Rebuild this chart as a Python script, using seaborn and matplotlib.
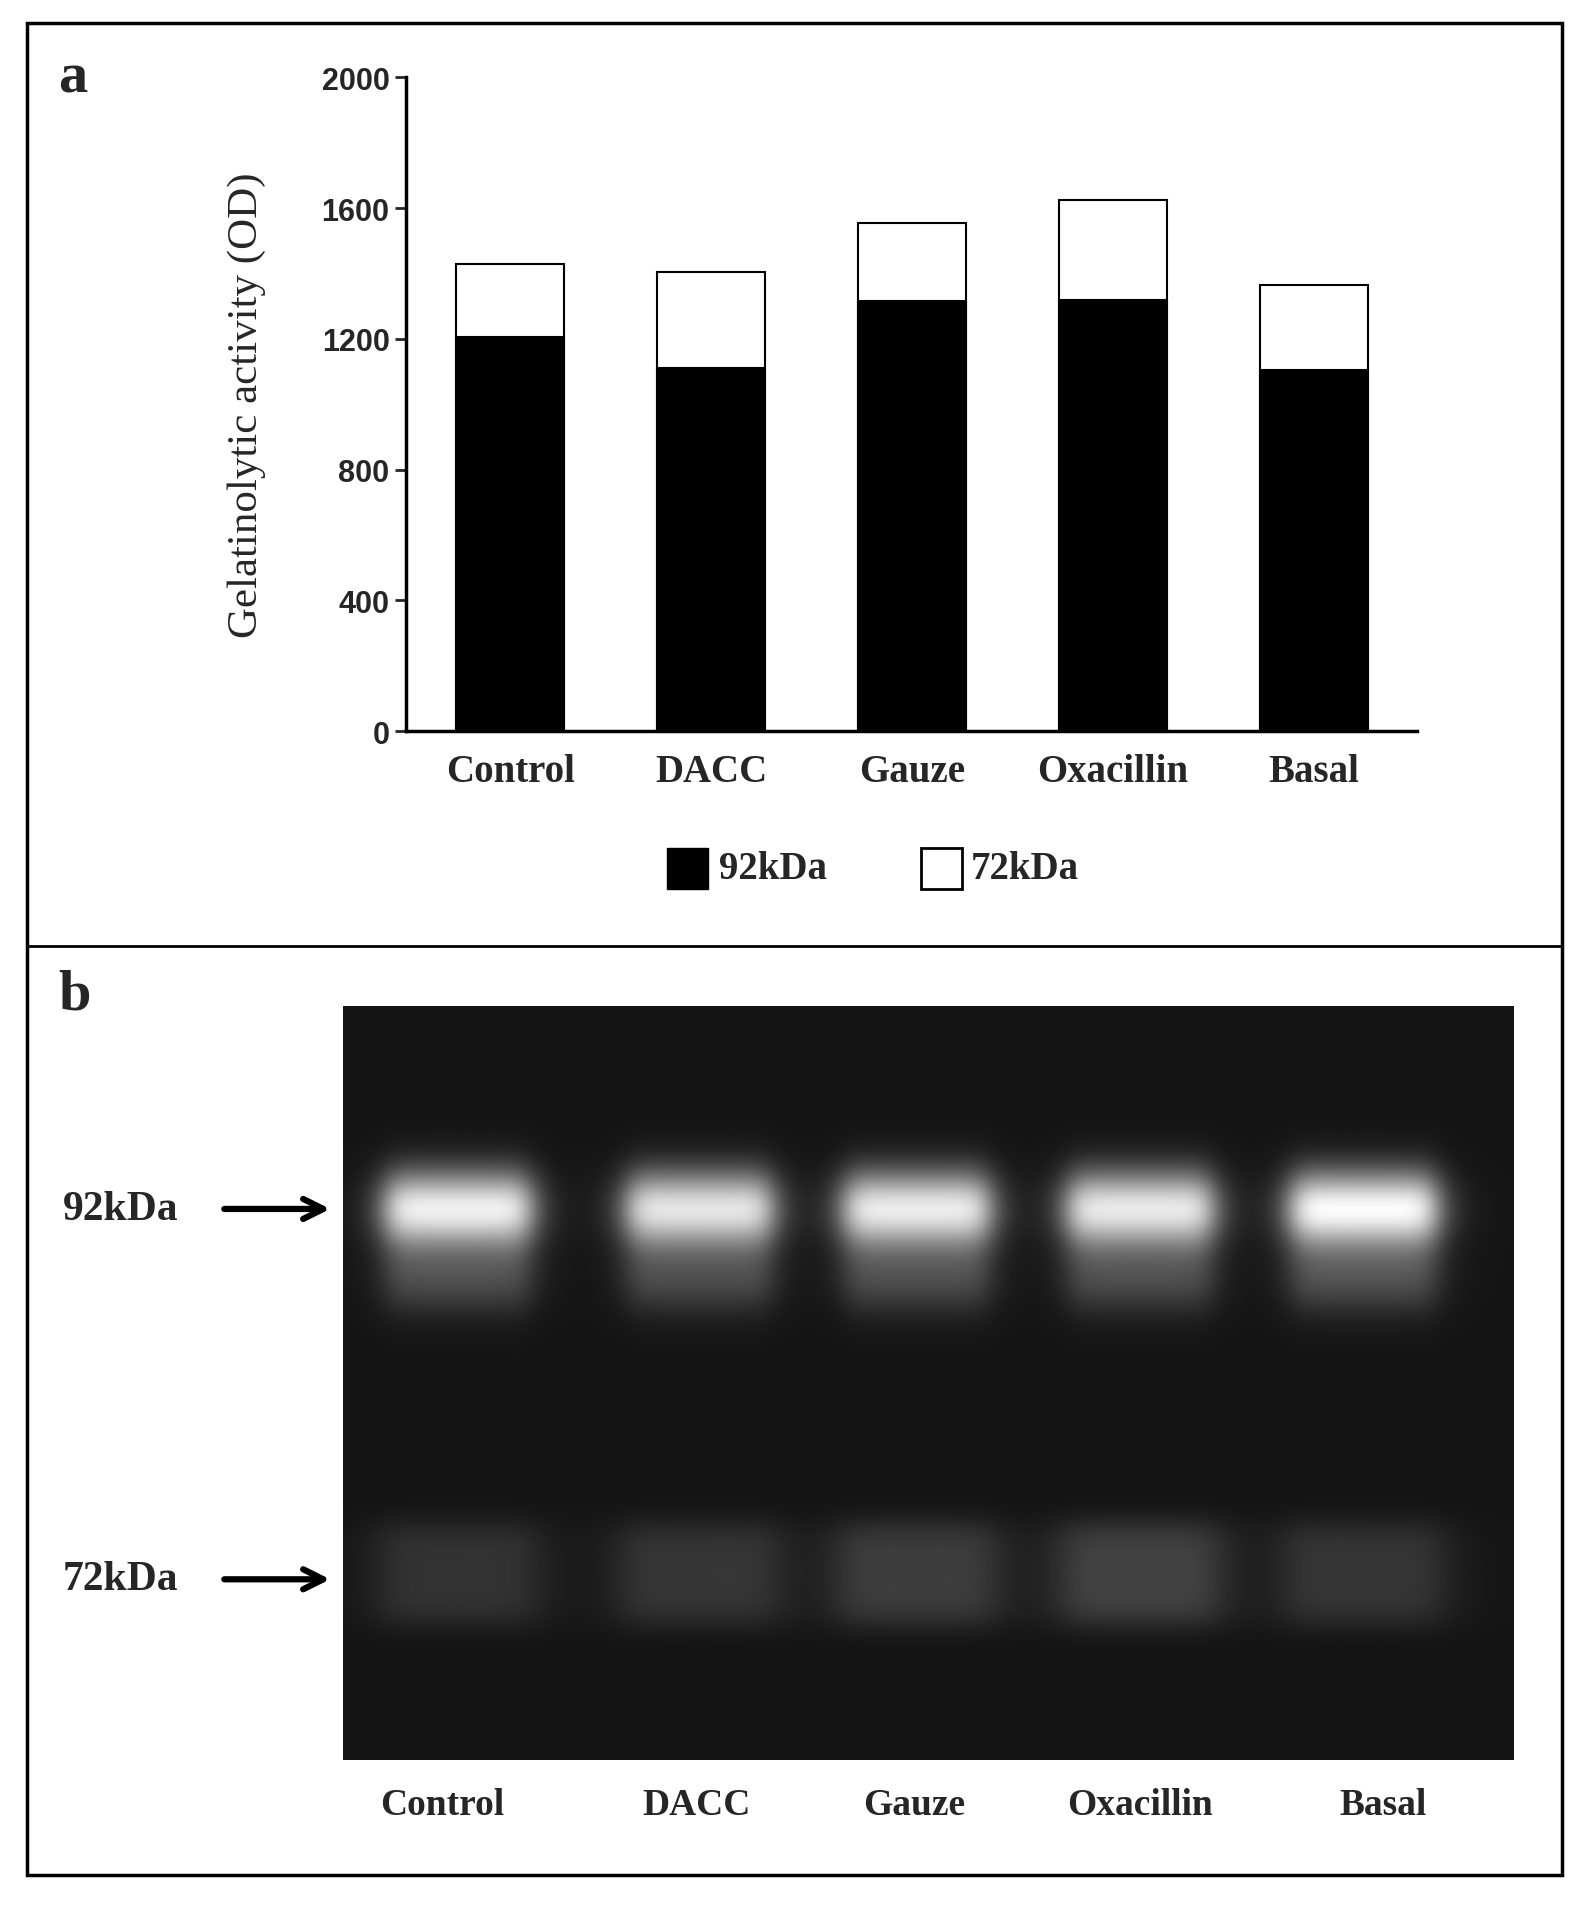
import numpy as np
import matplotlib
matplotlib.use("Agg")
import matplotlib.pyplot as plt
import seaborn as sns
import pandas as pd
from matplotlib.patches import Rectangle

sns.set_theme(style="white")
plt.rcParams['font.family'] = ['Liberation Serif', 'DejaVu Serif']

categories = ["Control", "DACC", "Gauze", "Oxacillin", "Basal"]
kda92 = [1205, 1110, 1315, 1320, 1105]
kda72 = [225, 295, 240, 305, 260]
yticks = [0, 400, 800, 1200, 1600, 2000]
# relative band intensities on the gel
gel92 = [0.95, 0.9, 0.93, 0.92, 1.0]
gel72 = [0.12, 0.13, 0.16, 0.18, 0.13]

fig = plt.figure(figsize=(15.86, 19.06), dpi=100)
W, H = 1310, 1580
fig.add_artist(Rectangle((22/W, 1-1555/H), (1290-22)/W, (1555-20)/H, transform=fig.transFigure,
                         fill=False, lw=2.5, ec='black'))
fig.add_artist(plt.Line2D([22/W, 1290/W], [1-785/H]*2, transform=fig.transFigure, lw=2, color='black'))

ax = fig.add_axes([335/W, 1-607/H, (1170-335)/W, (607-65)/H])
df = pd.DataFrame({"cat": categories, "total": np.add(kda92, kda72), "k92": kda92})
sns.barplot(data=df, x="cat", y="total", color="white", edgecolor="black", linewidth=1.5, width=0.54, ax=ax)
sns.barplot(data=df, x="cat", y="k92", color="black", edgecolor="black", linewidth=1.5, width=0.54, ax=ax)
ax.set_ylim(0, 2000)
ax.set_xlim(-0.52, 4.51)
ax.set_yticks(yticks)
ax.set_yticklabels([str(t) for t in yticks], fontfamily='Liberation Sans', fontweight='bold', fontsize=22)
ax.set_xticklabels(categories, fontweight='bold', fontsize=28)
ax.tick_params(axis='x', length=0, pad=16)
ax.tick_params(axis='y', length=8, width=2, direction='out', left=True)
ax.set_xlabel("")
ax.set_ylabel("Gelatinolytic activity (OD)", fontsize=31, labelpad=40)
for s in ['top', 'right']:
    ax.spines[s].set_visible(False)
for s in ['left', 'bottom']:
    ax.spines[s].set_linewidth(2.5)
    ax.spines[s].set_color('black')

fig.text(48/W, 1-65/H, "a", fontsize=42, fontweight='bold', va='center')
fig.text(48/W, 1-825/H, "b", fontsize=42, fontweight='bold', va='center')

# legend
fig.add_artist(Rectangle((551/W, 1-738/H), 34/W, 34/H, transform=fig.transFigure, fc='black', ec='black'))
fig.text(594/W, 1-721/H, "92kDa", fontsize=28, fontweight='bold', va='center')
fig.add_artist(Rectangle((761/W, 1-738/H), 34/W, 34/H, transform=fig.transFigure, fc='white', ec='black', lw=2))
fig.text(802/W, 1-721/H, "72kDa", fontsize=28, fontweight='bold', va='center')

# gel
gx = fig.add_axes([283/W, 1-1460/H, (1250-283)/W, (1460-835)/H])
nx, ny = 970, 625
xs = np.arange(nx)[None, :]
ys = np.arange(ny)[:, None]
img = np.full((ny, nx), 0.08)
centers = [95, 295, 475, 660, 845]
for c, a, b in zip(centers, gel92, gel72):
    xp = 1 / (1 + ((xs - c) / 62) ** 8)
    img += a * xp * np.exp(-((ys - 168) / 32) ** 2) * 0.9
    img += a * 0.22 * xp * np.exp(-((ys - 225) / 30) ** 2)
    xp2 = 1 / (1 + ((xs - c) / 70) ** 6)
    img += b * xp2 * np.exp(-((ys - 470) / 45) ** 4)
gx.imshow(np.clip(img, 0, 1), cmap='gray', vmin=0, vmax=1, aspect='auto')
gx.set_xticks([])
gx.set_yticks([])
for s in gx.spines.values():
    s.set_visible(False)

for lab, xf in zip(categories, [365, 575, 755, 942, 1142]):
    fig.text(xf/W, 1-1497/H, lab, fontsize=27, fontweight='bold', ha='center', va='center')
for lab, yv in [("92kDa", 1003), ("72kDa", 1310)]:
    fig.text(52/W, 1-yv/H, lab, fontsize=30, fontweight='bold', va='center')
    ax.annotate("", xy=(275/W, 1-yv/H), xytext=(183/W, 1-yv/H), xycoords='figure fraction',
                arrowprops=dict(arrowstyle='->,head_length=1.2,head_width=0.6', lw=4.5, color='black'))

fig.savefig("out.png", dpi=100)
